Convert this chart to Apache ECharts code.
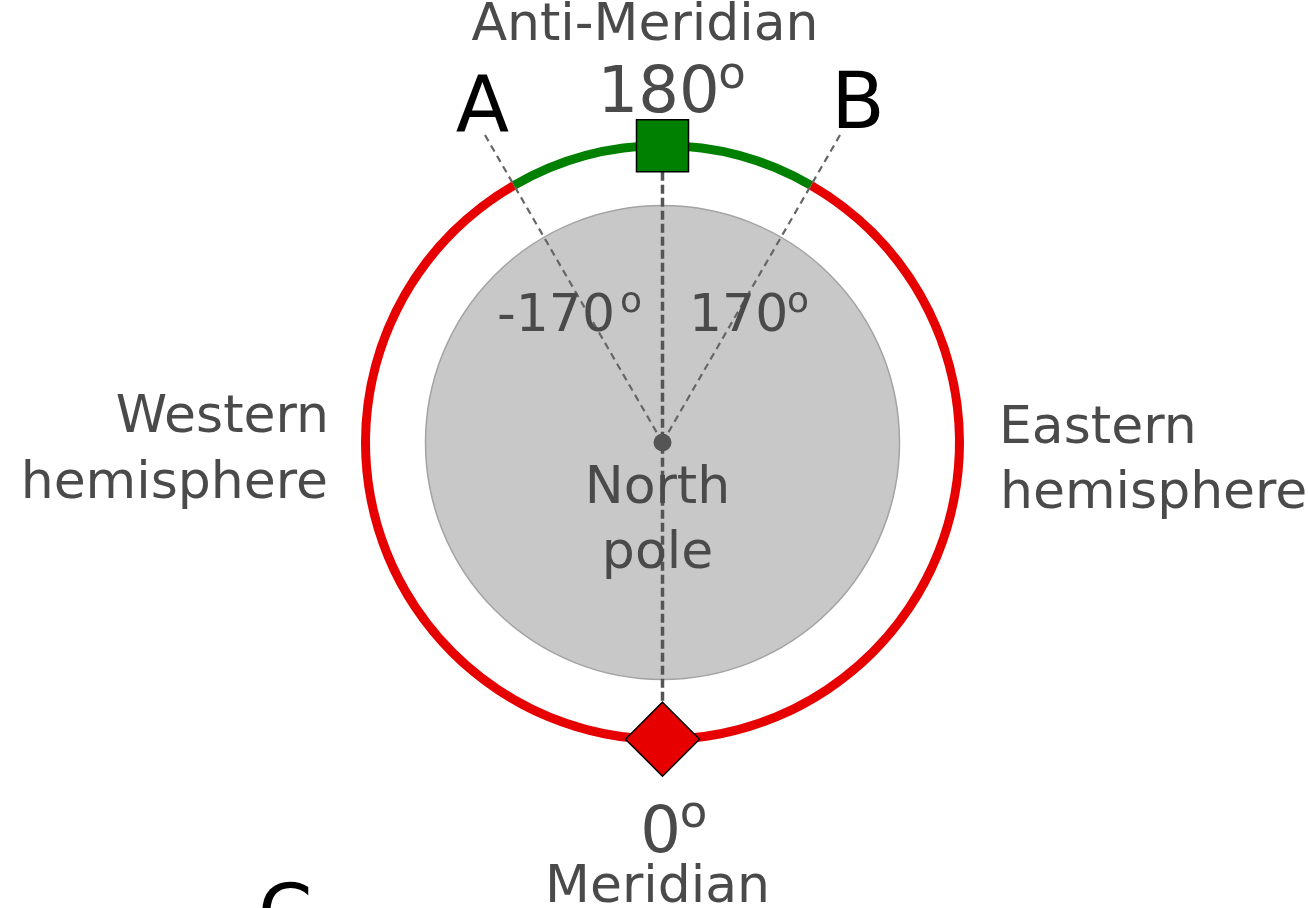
<!DOCTYPE html>
<html>
<head>
<meta charset="utf-8">
<script src="https://cdn.jsdelivr.net/npm/echarts@6/dist/echarts.min.js"></script>
<style>
html,body{margin:0;padding:0;background:#fff;}
#chart{width:1308px;height:908px;}
</style>
</head>
<body>
<div id="chart"></div>
<script>
// ---- data (longitudes in degrees) ----
const markerLon = [180, 0];                 // anti-meridian (square), meridian (diamond)
const markerNames = ['Anti-Meridian', 'Meridian'];
const markerLabels = ['180', '0'];
const boundaryLon = [-150, 150];            // drawn positions of lines A and B
const boundaryNames = ['A', 'B'];
const boundaryLabels = ['-170', '170'];
const hemisphereNames = ['Western\nhemisphere', 'Eastern\nhemisphere'];
const poleName = ['North', 'pole'];

// ring segments built from the boundaries: red from 0 to boundary, green from boundary to ±180
const ringRed = boundaryLon.map(v => v);
const ringGreen = boundaryLon.map(v => Math.sign(v) * 180 - v);

const RED = '#e60000', GREEN = '#008000', TXT = '#4a4a4a';
const FONT = '"DejaVu Sans", Verdana, sans-serif';
const CX = 662.5, CY = 442.5;

const chart = echarts.init(document.getElementById('chart'), null, {renderer: 'canvas'});

// y given as text baseline
function txt(x, base, text, size, align, color) {
  return {
    type: 'text', x: x, y: base - 0.28 * size, z: 100,
    style: {
      text: text, font: size + 'px ' + FONT, fill: color || TXT,
      textAlign: align || 'center', textVerticalAlign: 'middle'
    }
  };
}

const graphics = [
  txt(645, 41, markerNames[0], 52),
  txt(658.6, 113, markerLabels[0], 64),
  txt(732, 89, 'o', 45),
  txt(482.5, 134, boundaryNames[0], 78, 'center', '#000'),
  txt(858, 130, boundaryNames[1], 78, 'center', '#000'),
  txt(497, 332, boundaryLabels[0], 52, 'left'),
  txt(631, 313, 'o', 36),
  txt(689, 332, boundaryLabels[1], 52, 'left'),
  txt(798, 313, 'o', 36),
  txt(329, 433, hemisphereNames[0].split('\n')[0], 52, 'right'),
  txt(328, 499, hemisphereNames[0].split('\n')[1], 52, 'right'),
  txt(999, 444, hemisphereNames[1].split('\n')[0], 52, 'left'),
  txt(1000, 509, hemisphereNames[1].split('\n')[1], 52, 'left'),
  txt(657.5, 504, poleName[0], 52),
  txt(657.5, 569, poleName[1], 52),
  txt(660.5, 853, markerLabels[1], 64),
  txt(693.5, 828, 'o', 45),
  txt(657.5, 903, markerNames[1], 52),
  txt(258, 942, 'C', 78, 'left', '#000')
];

const option = {
  animation: false,
  backgroundColor: '#ffffff',
  polar: [
    {center: [CX, CY], radius: 356},
    {center: [CX, CY], radius: 594}
  ],
  angleAxis: [
    {polarIndex: 0, type: 'value', min: -180, max: 180, startAngle: 90, clockwise: false, show: false},
    {polarIndex: 1, type: 'value', min: -180, max: 180, startAngle: 90, clockwise: false, show: false}
  ],
  radiusAxis: [
    {polarIndex: 0, type: 'value', min: 0, max: 1.2, show: false},
    {polarIndex: 1, type: 'category', data: ['ring'], show: false}
  ],
  series: [
    // gray disk
    {type: 'scatter', coordinateSystem: 'polar', polarIndex: 0, z: 1, silent: true,
     symbol: 'circle', symbolSize: 474,
     itemStyle: {color: '#c8c8c8', borderColor: '#a3a3a3', borderWidth: 1.5, opacity: 1},
     data: [[0, markerLon[1]]]},
    // ring segments
    {type: 'bar', coordinateSystem: 'polar', polarIndex: 1, stack: 'ring', barWidth: 9, z: 2, silent: true,
     itemStyle: {color: RED}, data: [ringRed[1]]},
    {type: 'bar', coordinateSystem: 'polar', polarIndex: 1, stack: 'ring', barWidth: 9, z: 2, silent: true,
     itemStyle: {color: GREEN}, data: [ringGreen[1]]},
    {type: 'bar', coordinateSystem: 'polar', polarIndex: 1, stack: 'ring', barWidth: 9, z: 2, silent: true,
     itemStyle: {color: RED}, data: [ringRed[0]]},
    {type: 'bar', coordinateSystem: 'polar', polarIndex: 1, stack: 'ring', barWidth: 9, z: 2, silent: true,
     itemStyle: {color: GREEN}, data: [ringGreen[0]]},
    // dashed A / B lines
    ...boundaryLon.map(lon => ({
      type: 'line', coordinateSystem: 'polar', polarIndex: 0, z: 3, silent: true,
      showSymbol: false, symbol: 'none',
      lineStyle: {color: '#666666', width: 2.2, type: [7, 5]},
      data: [[0, lon], [1.2, lon]]
    })),
    // vertical meridian / anti-meridian dashed line
    {type: 'line', coordinateSystem: 'polar', polarIndex: 0, z: 3, silent: true,
     showSymbol: false, symbol: 'none',
     lineStyle: {color: '#555555', width: 3.5, type: [9, 4]},
     data: [[1, markerLon[0]], [0, markerLon[1]], [1, markerLon[1]]]},
    // center dot
    {type: 'scatter', coordinateSystem: 'polar', polarIndex: 0, z: 4, silent: true,
     symbol: 'circle', symbolSize: 18, itemStyle: {color: '#555555', opacity: 1},
     data: [[0, markerLon[1]]]},
    // anti-meridian square
    {type: 'scatter', coordinateSystem: 'polar', polarIndex: 0, z: 5, silent: true,
     symbol: 'rect', symbolSize: 52,
     itemStyle: {color: GREEN, borderColor: '#000', borderWidth: 1.5, opacity: 1},
     data: [[1, markerLon[0]]]},
    // meridian diamond
    {type: 'scatter', coordinateSystem: 'polar', polarIndex: 0, z: 5, silent: true,
     symbol: 'diamond', symbolSize: 74,
     itemStyle: {color: RED, borderColor: '#000', borderWidth: 1.5, opacity: 1},
     data: [[1, markerLon[1]]]}
  ],
  graphic: graphics
};

chart.setOption(option);
</script>
</body>
</html>
